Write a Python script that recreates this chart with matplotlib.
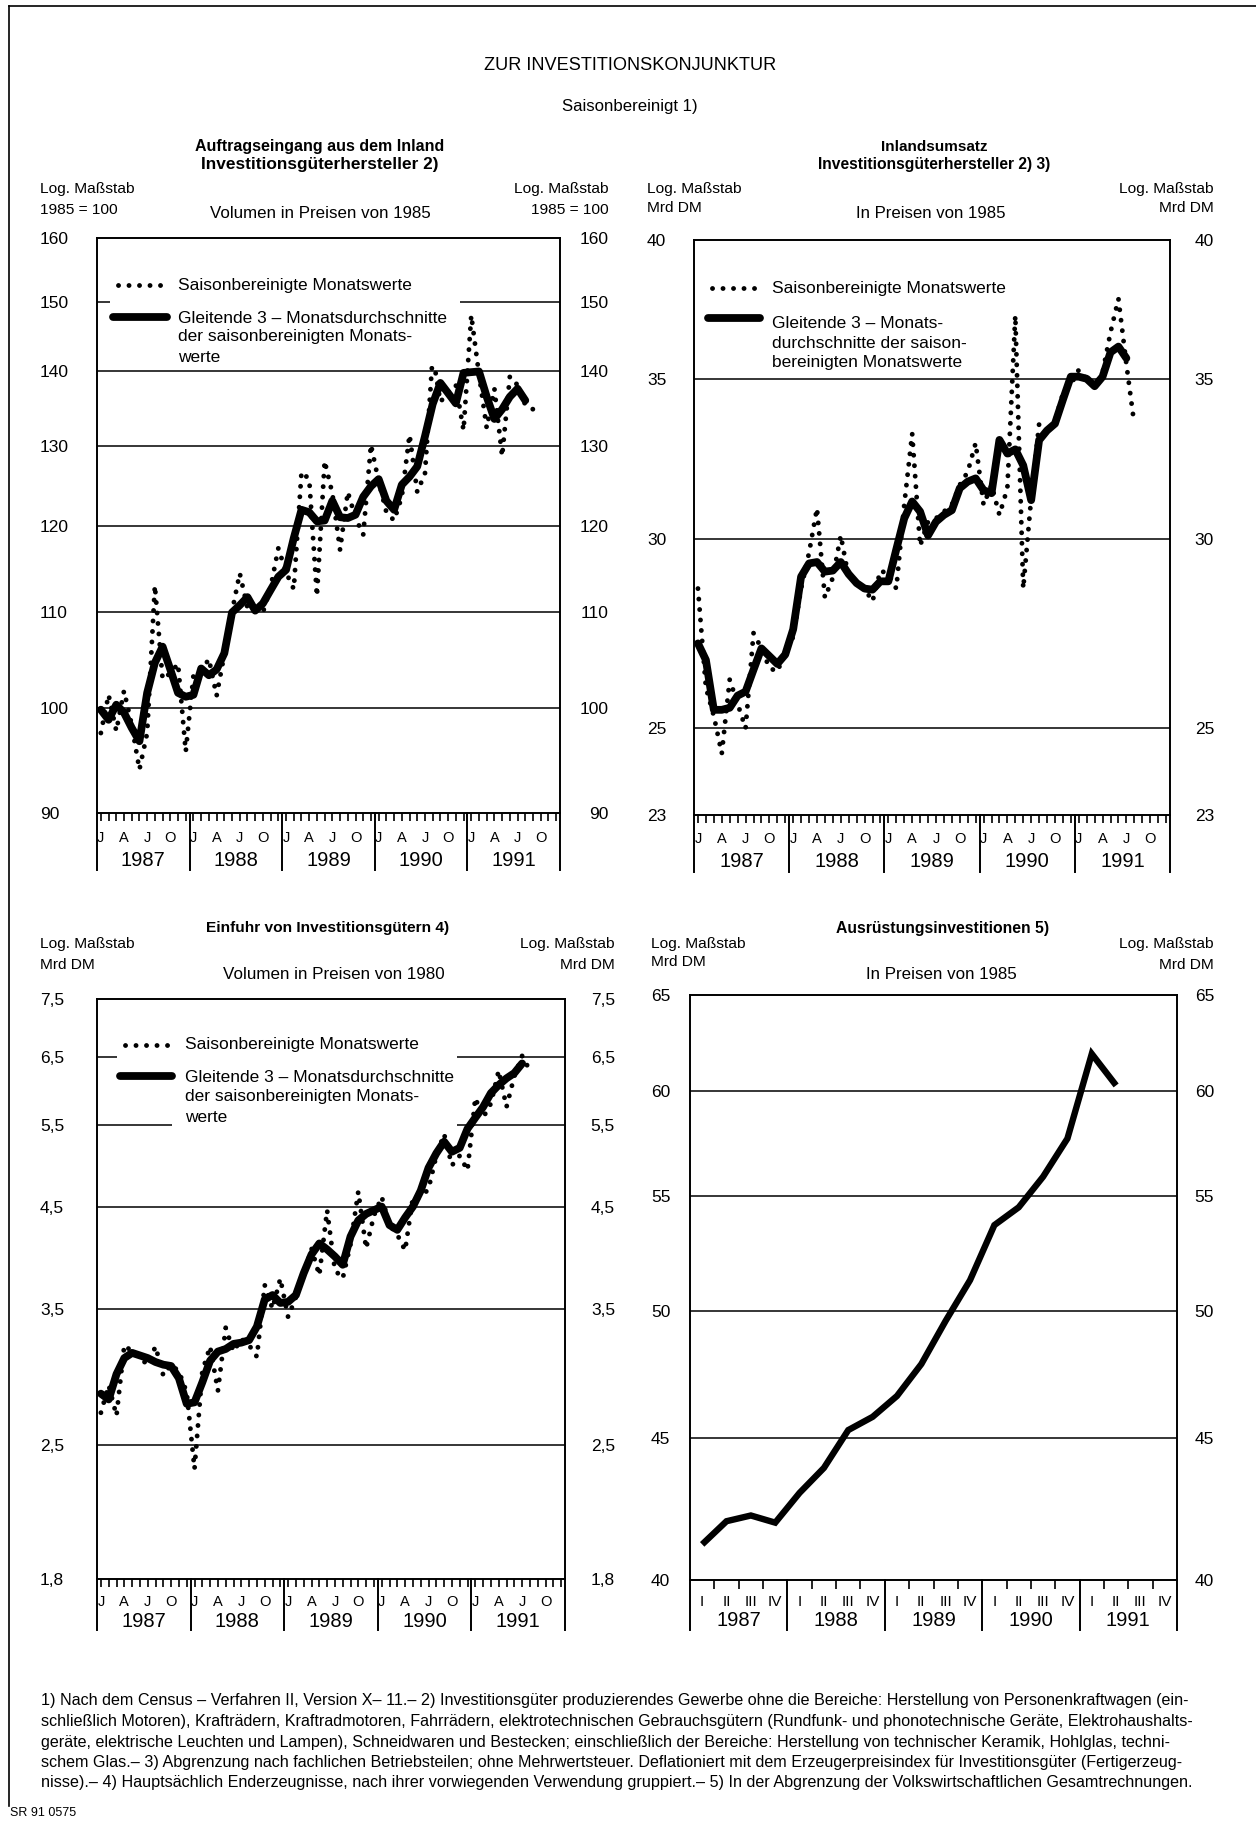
import numpy as np
import matplotlib
matplotlib.use("Agg")
import matplotlib.pyplot as plt
from matplotlib.ticker import NullLocator
from matplotlib.patches import Rectangle

# ---------------- data ----------------
years = [1987, 1988, 1989, 1990, 1991]
month_labels = ["J", "A", "J", "O"]
quarter_labels = ["I", "II", "III", "IV"]

# Auftragseingang aus dem Inland (1985 = 100), monthly from Jan 1987
auftrag_monat = [97.5, 101.3, 97.7, 101.7, 98.3, 94.0, 97.5, 113.0, 102.9, 103.5,
                 104.5, 95.7, 103.3, 103.7, 105.0, 101.2, 105.5, 110.1, 114.4, 110.5,
                 110.2, 110.0, 112.8, 117.3, 114.5, 112.6, 126.6, 125.7, 111.8, 128.0,
                 123.9, 117.1, 124.1, 120.9, 118.9, 130.1, 125.4, 121.6, 120.6, 123.5,
                 131.4, 124.1, 126.4, 142.3, 135.8, 137.1, 138.1, 132.0, 148.1, 139.6,
                 132.3, 137.6, 128.6, 139.3, 138.1, 135.4, 134.8]
auftrag_gl3 = [99.8, 98.8, 100.3, 99.5, 98.0, 96.7, 101.5, 104.6, 106.3, 103.9,
               101.5, 101.1, 101.3, 104.0, 103.3, 103.9, 105.6, 110.0, 110.8, 111.7,
               110.2, 111.0, 112.5, 114.0, 114.8, 118.5, 121.9, 121.6, 120.5, 120.6,
               123.0, 121.0, 120.9, 121.3, 123.5, 124.8, 125.7, 123.0, 121.9, 125.0,
               126.0, 127.3, 131.2, 135.5, 138.4, 137.0, 135.6, 139.8, 139.9, 140.0,
               136.5, 133.5, 134.8, 136.5, 137.6, 136.0]

# Inlandsumsatz (Mrd DM)
umsatz_monat = [28.6, 26.0, 25.3, 24.4, 26.2, 25.6, 25.0, 27.4, 27.0, 26.5,
                26.4, 26.9, 27.3, 28.6, 29.6, 30.9, 28.35, 28.9, 30.1, 28.9,
                28.8, 28.6, 28.25, 29.1, 29.0, 28.6, 31.0, 33.2, 29.8, 30.5,
                30.6, 30.8, 31.0, 31.6, 32.0, 32.9, 31.0, 31.6, 30.7, 31.5,
                37.2, 28.6, 31.2, 33.5, 33.2, 33.6, 34.5, 34.8, 35.3, 35.0,
                34.75, 35.2, 36.6, 37.8, 35.5, 33.5]
umsatz_gl3 = [27.13, 26.7, 25.45, 25.45, 25.5, 25.8, 25.9, 26.45, 27.0, 26.8,
              26.6, 26.84, 27.5, 28.93, 29.3, 29.34, 29.07, 29.1, 29.34, 29.0,
              28.75, 28.6, 28.57, 28.8, 28.8, 29.7, 30.6, 31.1, 30.8, 30.1,
              30.5, 30.7, 30.84, 31.5, 31.7, 31.8, 31.44, 31.35, 33.0, 32.57,
              32.7, 32.2, 31.14, 32.99, 33.3, 33.52, 34.3, 35.07, 35.07, 35.0,
              34.75, 35.07, 35.9, 36.1, 35.7]

# Einfuhr von Investitionsgütern (Mrd DM)
einfuhr_monat = [2.71, 2.9, 2.69, 3.2, 3.15, 3.1, 3.05, 3.19, 2.97, 3.05,
                 3.0, 2.85, 2.36, 3.0, 3.19, 2.86, 3.34, 3.15, 3.25, 3.2,
                 3.11, 3.71, 3.5, 3.77, 3.43, 3.6, 3.8, 4.06, 3.8, 4.46,
                 3.85, 3.77, 4.1, 4.67, 4.06, 4.4, 4.61, 4.3, 4.2, 4.04,
                 4.6, 4.6, 4.7, 5.1, 5.38, 4.98, 5.1, 4.92, 5.88, 5.6,
                 5.8, 6.29, 5.75, 6.2, 6.52, 6.29]
einfuhr_gl3 = [2.84, 2.8, 2.98, 3.1, 3.14, 3.12, 3.1, 3.07, 3.05, 3.04,
               2.95, 2.77, 2.78, 2.92, 3.08, 3.15, 3.17, 3.21, 3.22, 3.24,
               3.35, 3.58, 3.62, 3.55, 3.56, 3.62, 3.82, 4.0, 4.11, 4.05,
               3.98, 3.9, 4.18, 4.35, 4.42, 4.46, 4.5, 4.3, 4.25, 4.38,
               4.5, 4.68, 4.95, 5.13, 5.28, 5.15, 5.2, 5.45, 5.6, 5.75,
               5.95, 6.07, 6.17, 6.25, 6.4]

# Ausrüstungsinvestitionen (Mrd DM), quarterly from I/1987
ausruestung_q = [41.2, 42.0, 42.2, 41.95, 43.0, 43.9, 45.3, 45.8, 46.6, 47.85,
                 49.6, 51.3, 53.7, 54.5, 55.9, 57.7, 61.9, 60.3]

ticks_p1 = [90, 100, 110, 120, 130, 140, 150, 160]
ticks_p2 = [23, 25, 30, 35, 40]
ticks_p3 = [1.8, 2.5, 3.5, 4.5, 5.5, 6.5, 7.5]
ticks_p4 = [40, 45, 50, 55, 60, 65]
labels_p3 = ["1,8", "2,5", "3,5", "4,5", "5,5", "6,5", "7,5"]

# ---------------- figure ----------------
W, H = 1256, 1826
FONT = ["Liberation Sans", "DejaVu Sans"]
plt.rcParams["font.family"] = FONT
fig = plt.figure(figsize=(W / 100, H / 100), dpi=100)
renderer = fig.canvas.get_renderer()
PT = 0.72  # points per pixel at 100 dpi


def put(x, y, s, size, ha="left", va="center", weight="normal", width=None):
    t = fig.text(x / W, 1 - y / H, s, fontsize=size, ha=ha, va=va, fontweight=weight)
    if width:
        w = t.get_window_extent(renderer).width
        t.set_fontsize(size * width / w)
    return t


def fitted_size(s, size, width, weight="normal"):
    t = put(300, 300, s, size, weight=weight, width=width)
    fsz = t.get_fontsize()
    t.remove()
    return fsz


def make_axes(l, r, t, b):
    ax = fig.add_axes([l / W, 1 - b / H, (r - l) / W, (b - t) / H])
    for s in ax.spines.values():
        s.set_linewidth(1.4)
    return ax


def setup_y(ax, lo, hi, ticks, labels, lpad, rpad):
    ax.set_yscale("log")
    ax.set_ylim(lo, hi)
    ax.set_yticks(ticks, labels=labels)
    ax.yaxis.set_minor_locator(NullLocator())
    ax.tick_params(axis="y", length=0, pad=lpad * PT, labelsize=12.5)
    for lab in ax.get_yticklabels():
        lab.set_ha("left")
    ax2 = ax.twinx()
    ax2.set_yscale("log")
    ax2.set_ylim(lo, hi)
    ax2.set_yticks(ticks, labels=labels)
    ax2.yaxis.set_minor_locator(NullLocator())
    ax2.tick_params(axis="y", length=0, pad=rpad * PT, labelsize=12.5)
    for lab in ax2.get_yticklabels():
        lab.set_ha("right")
    for s in ax2.spines.values():
        s.set_visible(False)
    for g in ticks[1:-1]:
        ax.axhline(g, color="black", lw=1.1, zorder=1)


def setup_months(ax, hpx, lab_off, year_off, sep_len):
    ax.set_xlim(0, 60)
    ax.set_xticks(np.arange(60) + 0.5)
    ax.set_xticklabels([])
    ax.tick_params(axis="x", direction="out", length=8 * PT, width=1.2)
    tr = ax.get_xaxis_transform()
    for i in range(len(years) + 1):
        ax.axvline(12 * i, ymin=-sep_len / hpx, ymax=0, color="black", lw=1.4, clip_on=False)
    for i, yr in enumerate(years):
        for j, lab in zip([0, 3, 6, 9], month_labels):
            ax.text(12 * i + j + 0.5, -lab_off / hpx, lab, transform=tr, ha="center",
                    va="center", fontsize=10.5)
        ax.text(12 * i + 6, -year_off / hpx, str(yr), transform=tr, ha="center",
                va="center", fontsize=14.5)


def setup_quarters(ax, hpx, lab_off, year_off, sep_len):
    ax.set_xlim(0, 20)
    ax.set_xticks([k for k in range(1, 20) if k % 4])
    ax.set_xticklabels([])
    ax.tick_params(axis="x", direction="out", length=9 * PT, width=1.2)
    tr = ax.get_xaxis_transform()
    for i in range(len(years) + 1):
        ax.axvline(4 * i, ymin=-sep_len / hpx, ymax=0, color="black", lw=1.4, clip_on=False)
    for i, yr in enumerate(years):
        for j, lab in enumerate(quarter_labels):
            ax.text(4 * i + j + 0.5, -lab_off / hpx, lab, transform=tr, ha="center",
                    va="center", fontsize=11)
        ax.text(4 * i + 2, -year_off / hpx, str(yr), transform=tr, ha="center",
                va="center", fontsize=14.5)


DOT = dict(color="black", lw=3.5, linestyle=(0, (0.01, 2.15)), dash_capstyle="round", zorder=3)
THICK = dict(color="black", lw=5.6, solid_capstyle="round", solid_joinstyle="round", zorder=4)


def plot_monthly(ax, monthly, avg):
    ax.plot(np.arange(len(monthly)) + 0.5, monthly, **DOT)
    ax.plot(np.arange(len(avg)) + 0.5, avg, **THICK)


def legend(dot_x, dot_y, thick_x, thick_y, tx, lines_y, lines, size, boxes):
    for (x0, x1, y0, y1) in boxes:
        fig.patches.append(Rectangle((x0 / W, 1 - y1 / H), (x1 - x0) / W, (y1 - y0) / H,
                                     transform=fig.transFigure, facecolor="white",
                                     edgecolor="none", zorder=0.5))
    fig.lines.append(plt.Line2D([dot_x[0] / W, dot_x[1] / W], [1 - dot_y / H] * 2,
                                transform=fig.transFigure, **DOT))
    fig.lines.append(plt.Line2D([thick_x[0] / W, thick_x[1] / W], [1 - thick_y / H] * 2,
                                transform=fig.transFigure, **THICK))
    for s, y in zip(lines, lines_y):
        put(tx, y, s, size)


# ---- frame ----
fig.lines.append(plt.Line2D([9 / W, 9 / W], [1 - 6 / H, 1 - 1806 / H], transform=fig.transFigure,
                            color="black", lw=1.2))
fig.lines.append(plt.Line2D([9 / W, 1.0], [1 - 6 / H, 1 - 6 / H], transform=fig.transFigure,
                            color="black", lw=1.2))

# ---- headings ----
put(630, 65, "ZUR INVESTITIONSKONJUNKTUR", 13, ha="center", width=292)
put(630, 106, "Saisonbereinigt 1)", 11, ha="center", width=135)

leg_size = fitted_size("Saisonbereinigte Monatswerte", 12, 235)
hdr = fitted_size("Log. Maßstab", 11, 94)

# ---------------- Panel 1 ----------------
L, R, T, B = 97, 560, 238, 813
ax1 = make_axes(L, R, T, B)
setup_y(ax1, 90, 160, ticks_p1, [str(v) for v in ticks_p1], L - 40, 609 - R)
setup_months(ax1, B - T, 25, 47, 57)
plot_monthly(ax1, auftrag_monat, auftrag_gl3)
put(320, 147, "Auftragseingang aus dem Inland", 11, ha="center", weight="bold", width=249)
put(320, 165, "Investitionsgüterhersteller 2)", 11, ha="center", weight="bold", width=237)
put(40, 189, "Log. Maßstab", hdr)
put(40, 210, "1985 = 100", hdr)
put(609, 189, "Log. Maßstab", hdr, ha="right")
put(609, 210, "1985 = 100", hdr, ha="right")
put(320, 213, "Volumen in Preisen von 1985", 11, ha="center", width=219)
legend((118, 162), 285, (113, 167), 317, 178, [285, 318, 337, 357],
       ["Saisonbereinigte Monatswerte", "Gleitende 3 – Monatsdurchschnitte",
        "der saisonbereinigten Monats-", "werte"], leg_size,
       [(110, 460, 268, 366)])

# ---------------- Panel 2 ----------------
L, R, T, B = 694, 1170, 240, 815
ax2 = make_axes(L, R, T, B)
setup_y(ax2, 23, 40, ticks_p2, [str(v) for v in ticks_p2], L - 647, 1214 - R)
setup_months(ax2, B - T, 24, 46, 57)
plot_monthly(ax2, umsatz_monat, umsatz_gl3)
put(934, 147, "Inlandsumsatz", 11, ha="center", weight="bold", width=106)
put(934, 165, "Investitionsgüterhersteller 2) 3)", 11, ha="center", weight="bold", width=233)
put(647, 189, "Log. Maßstab", hdr)
put(647, 208, "Mrd DM", hdr)
put(1214, 189, "Log. Maßstab", hdr, ha="right")
put(1214, 208, "Mrd DM", hdr, ha="right")
put(931, 213, "In Preisen von 1985", 11, ha="center", width=149)
legend((712, 758), 288, (708, 760), 318, 772, [288, 324, 343, 362],
       ["Saisonbereinigte Monatswerte", "Gleitende 3 – Monats-",
        "durchschnitte der saison-", "bereinigten Monatswerte"], leg_size, [])

# ---------------- Panel 3 ----------------
L, R, T, B = 97, 565, 999, 1579
ax3 = make_axes(L, R, T, B)
setup_y(ax3, 1.8, 7.5, ticks_p3, labels_p3, L - 40, 615 - R)
setup_months(ax3, B - T, 23, 42, 51)
plot_monthly(ax3, einfuhr_monat, einfuhr_gl3)
put(328, 928, "Einfuhr von Investitionsgütern 4)", 11, ha="center", weight="bold", width=243)
put(40, 944, "Log. Maßstab", hdr)
put(40, 965, "Mrd DM", hdr)
put(615, 944, "Log. Maßstab", hdr, ha="right")
put(615, 965, "Mrd DM", hdr, ha="right")
put(334, 974, "Volumen in Preisen von 1980", 11, ha="center", width=221)
legend((125, 168), 1045, (120, 172), 1076, 185, [1045, 1077, 1097, 1117],
       ["Saisonbereinigte Monatswerte", "Gleitende 3 – Monatsdurchschnitte",
        "der saisonbereinigten Monats-", "werte"], leg_size,
       [(117, 457, 1032, 1107), (172, 457, 1105, 1131)])

# ---------------- Panel 4 ----------------
L, R, T, B = 690, 1177, 995, 1580
ax4 = make_axes(L, R, T, B)
setup_y(ax4, 40, 65, ticks_p4, [str(v) for v in ticks_p4], L - 651, 1214 - R)
setup_quarters(ax4, B - T, 22, 41, 50)
ax4.plot(np.arange(len(ausruestung_q)) + 0.5, ausruestung_q, color="black", lw=4.6,
         solid_capstyle="butt", solid_joinstyle="miter", zorder=4)
put(943, 928, "Ausrüstungsinvestitionen 5)", 11, ha="center", weight="bold", width=213)
put(651, 944, "Log. Maßstab", hdr)
put(651, 962, "Mrd DM", hdr)
put(1214, 944, "Log. Maßstab", hdr, ha="right")
put(1214, 965, "Mrd DM", hdr, ha="right")
put(941, 974, "In Preisen von 1985", 11, ha="center", width=150)

# ---------------- footnotes ----------------
foot = [
    "1) Nach dem Census – Verfahren II, Version X– 11.– 2) Investitionsgüter produzierendes Gewerbe ohne die Bereiche: Herstellung von Personenkraftwagen (ein-",
    "schließlich Motoren), Krafträdern, Kraftradmotoren, Fahrrädern, elektrotechnischen Gebrauchsgütern (Rundfunk- und phonotechnische Geräte, Elektrohaushalts-",
    "geräte, elektrische Leuchten und Lampen), Schneidwaren und Bestecken; einschließlich der Bereiche: Herstellung von technischer Keramik, Hohlglas, techni-",
    "schem Glas.– 3) Abgrenzung nach fachlichen Betriebsteilen; ohne Mehrwertsteuer. Deflationiert mit dem Erzeugerpreisindex für Investitionsgüter (Fertigerzeug-",
    "nisse).– 4) Hauptsächlich Enderzeugnisse, nach ihrer vorwiegenden Verwendung gruppiert.– 5) In der Abgrenzung der Volkswirtschaftlichen Gesamtrechnungen.",
]
foot_y = [1700, 1721, 1742, 1762, 1782]
fs = put(41, foot_y[0], foot[0], 10, width=1149).get_fontsize()
for s, y in zip(foot[1:], foot_y[1:]):
    put(41, y, s, fs)
put(10, 1813, "SR 91 0575", 10, width=66)

fig.savefig("out.png", dpi=100)
